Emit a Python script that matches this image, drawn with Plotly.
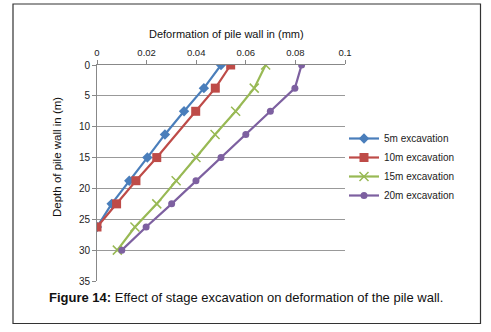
import plotly.graph_objects as go

# Data
depth_5m = [0, 3.75, 7.5, 11.25, 15, 18.75, 22.5, 26.25]
defl_5m = [0.0500, 0.0431, 0.0351, 0.0274, 0.0203, 0.0130, 0.0059, 0.0]

depth_10m = [0, 3.75, 7.5, 15, 18.75, 22.5, 26.25]
defl_10m = [0.0539, 0.0477, 0.0398, 0.0241, 0.0157, 0.0079, 0.0]

depth_15m = [0, 3.75, 7.5, 11.25, 15, 18.75, 22.5, 26.25, 30]
defl_15m = [0.0680, 0.0634, 0.0559, 0.0476, 0.0399, 0.0319, 0.0241, 0.0153, 0.0082]

depth_20m = [0, 3.75, 7.5, 11.25, 15, 18.75, 22.5, 26.25, 30]
defl_20m = [0.0825, 0.0798, 0.0699, 0.0600, 0.0500, 0.0399, 0.0301, 0.0198, 0.0100]

series_names = ["5m excavation", "10m excavation", "15m excavation", "20m excavation"]
x_ticks = [0, 0.02, 0.04, 0.06, 0.08, 0.1]
x_tick_labels = ["0", "0.02", "0.04", "0.06", "0.08", "0.1"]
y_ticks = [0, 5, 10, 15, 20, 25, 30, 35]

colors = ["#4A7EBB", "#BE4B48", "#98B954", "#7D60A0"]
symbols = ["diamond", "square", "x-thin-open", "circle"]
msizes = [8, 9, 9, 7]

W, H = 491, 332
L, R, T, B = 97, 146, 65, 51

fig = go.Figure()
for name, xs, ys, c, s, ms in zip(series_names,
                                  [defl_5m, defl_10m, defl_15m, defl_20m],
                                  [depth_5m, depth_10m, depth_15m, depth_20m],
                                  colors, symbols, msizes):
    marker = dict(symbol=s, size=ms, color=c)
    if s == "x-thin-open":
        marker["line"] = dict(color=c, width=1.5)
    fig.add_trace(go.Scatter(x=xs, y=ys, name=name, mode="lines+markers",
                             line=dict(color=c, width=2.2), marker=marker))

font_family = "Liberation Sans, Arial, sans-serif"

fig.update_layout(
    width=W, height=H,
    margin=dict(l=L, r=R, t=T, b=B, autoexpand=False),
    paper_bgcolor="white", plot_bgcolor="white",
    font=dict(family=font_family, size=10, color="#222"),
    showlegend=True,
    legend=dict(x=(344 - L) / (W - L - R), y=1 - (124 - T) / (H - T - B),
                xanchor="left", yanchor="top", bgcolor="rgba(0,0,0,0)",
                font=dict(size=10, color="#222"), tracegroupgap=4,
                itemwidth=30),
    xaxis=dict(side="top", range=[0, 0.1], tickvals=x_ticks, ticktext=x_tick_labels,
               showgrid=False, zeroline=False, showline=True, linecolor="#888",
               linewidth=1, ticks="outside", ticklen=4, tickcolor="#888",
               tickfont=dict(size=9.5, color="#222"), automargin=False),
    yaxis=dict(range=[35, 0], tickvals=y_ticks, showgrid=True, gridcolor="#999",
               gridwidth=1, zeroline=False, showline=True, linecolor="#888",
               linewidth=1, ticks="outside", ticklen=4, tickcolor="#888",
               tickfont=dict(size=10, color="#222"), automargin=False),
)

pw, ph = W - L - R, H - T - B
def px(xp):
    return (xp - L) / pw
def py(yp):
    return 1 - (yp - T) / ph

# outer border
fig.add_shape(type="rect", xref="paper", yref="paper",
              x0=px(13), x1=px(480.5), y0=py(323.5), y1=py(4),
              line=dict(color="#333", width=1.2))

fig.add_annotation(text="Deformation of pile wall in (mm)", xref="paper", yref="paper",
                   x=px(226), y=py(26), showarrow=False,
                   font=dict(size=11, color="#111"))
fig.add_annotation(text="Depth of pile wall in (m)", xref="paper", yref="paper",
                   x=px(49), y=py(157), showarrow=False, textangle=-90,
                   font=dict(size=11.5, color="#111"))
fig.add_annotation(text="<b>Figure 14:</b> Effect of stage excavation on deformation of the pile wall.",
                   xref="paper", yref="paper", x=px(246), y=py(306.5), showarrow=False,
                   font=dict(family="Liberation Sans, Arial, sans-serif", size=13, color="#111"))

fig.write_html("out.html", config={"displayModeBar": False},
               post_script="document.body.style.margin='0';document.body.style.overflow='hidden';")
